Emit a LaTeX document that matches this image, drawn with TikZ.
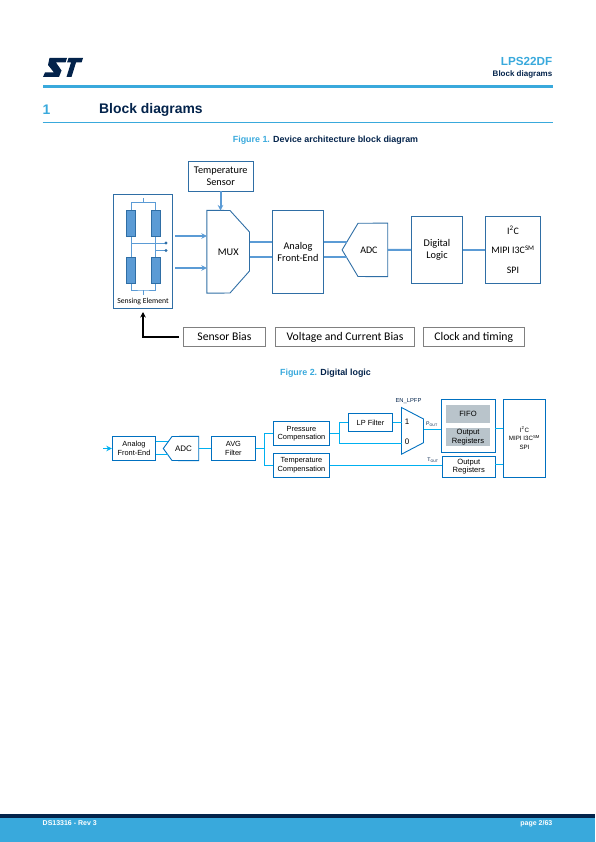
\documentclass[tikz,border=0pt]{standalone}
\usepackage{fontspec}
\setmainfont{Liberation Sans}
\newfontfamily\calfont{Carlito}
\usetikzlibrary{positioning,arrows.meta}
\definecolor{stnavy}{HTML}{03234B}
\definecolor{stblue}{HTML}{39A9DC}
\definecolor{boxline}{HTML}{2F6EA5}
\definecolor{wireone}{HTML}{5B9BD5}
\definecolor{boxtwo}{HTML}{0070C0}
\definecolor{wiretwo}{HTML}{00B0F0}
\definecolor{greybar}{HTML}{B9C4CB}
\newcommand{\fs}[1]{\fontsize{#1}{1.15\dimexpr #1pt\relax}\selectfont}
\tikzset{
	boxa/.style={draw=boxline,line width=.9pt,align=center,inner sep=0pt,font=\calfont\fs{10.3}},
	biasbox/.style={draw=black!50,line width=.9pt,align=center,inner sep=0pt,font=\calfont\fs{11.7},minimum height=19pt},
	resbox/.style={draw=boxline,line width=.9pt,fill=wireone,inner sep=0pt,minimum width=9pt,minimum height=26pt},
	wirea/.style={draw=wireone,line width=2pt},
	wireb/.style={draw=wireone,line width=.9pt},
	boxb/.style={draw=boxtwo,line width=.9pt,align=center,inner sep=0pt,font=\fs{7.4}},
	wirec/.style={draw=wiretwo,line width=.9pt},
	greyb/.style={fill=greybar,align=center,inner sep=0pt,font=\fs{7.6},minimum width=44pt,minimum height=18pt},
	plain/.style={inner sep=0pt,align=center},
}
\begin{document}
\begin{tikzpicture}[x=1pt,y=-1pt,>={Stealth[length=5.5pt,width=5.5pt]}]
	\useasboundingbox (0,0) rectangle (595,842);
	% page header
	\fill[stnavy] (49.5,58)--(67,58)--(65.5,62.5)--(56,62.5)--(61.5,70.5)--(59,77)--(43,77)--(45,72.5)--(54,72.5)--(48,65)--cycle;
	\fill[stnavy] (68.5,58)--(83,58)--(81.5,62.5)--(76,62.5)--(71.5,77)--(66.5,77)--(71,62.5)--(67,62.5)--cycle;
	\node[plain,anchor=east,text=stblue,font=\bfseries\fs{11.7}] (partname) at (552.5,61.5) {LPS22DF};
	\node[plain,anchor=east,text=stnavy,font=\bfseries\fs{8}] (headsub) at (552.5,74.5) {Block diagrams};
	\fill[stblue] (42.5,85) rectangle (552.5,88);
	\node[plain,anchor=west,text=stblue,font=\bfseries\fs{13.9}] (secnum) at (42.5,109.5) {1};
	\node[plain,anchor=west,text=stnavy,font=\bfseries\fs{13.9}] (sectitle) at (99,109.5) {Block diagrams};
	\draw[stblue,line width=.7pt] (42.5,122.5) -- (552.5,122.5);
	\node[plain,text=stnavy,font=\bfseries\fs{8.9}] (captone) at (325.5,140) {\textcolor{stblue}{Figure 1.} Device architecture block diagram};
	\node[plain,text=stnavy,font=\bfseries\fs{8.9}] (capttwo) at (325.5,373.5) {\textcolor{stblue}{Figure 2.} Digital logic};
	% figure 1
	\node[boxa,minimum width=65.5pt,minimum height=30pt] (tempsensor) at (220.75,176) {Temperature\\Sensor};
	\node[boxa,minimum width=59pt,minimum height=114pt] (sensing) at (143,251) {};
	\node[plain,font=\calfont\fs{7.7}] (sensinglabel) at (143,301.5) {Sensing Element};
	\node[resbox] (resa) at (131,223.5) {};
	\node[resbox] (resb) at (155.75,223.5) {};
	\node[resbox] (resc) at (131,270.5) {};
	\node[resbox] (resd) at (155.75,270.5) {};
	\coordinate (topstub) at (143.5,198);
	\coordinate (botstub) at (143.5,295);
	\coordinate (dota) at (166,243);
	\coordinate (dotb) at (166,250.5);
	\draw[wireb] (resa.north) |- (143.5,202.5) -| (resb.north);
	\draw[wireb] (143.5,202.5) -- (topstub);
	\draw[wireb] (resc.south) |- (143.5,290) -| (resd.south);
	\draw[wireb] (143.5,290) -- (botstub);
	\draw[wireb] (resa.south) -- (resc.north);
	\draw[wireb] (resb.south) -- (resd.north);
	\draw[wireb] (resa.south |- dota) -- (dota);
	\draw[wireb] (resb.south |- dotb) -- (dotb);
	\fill[boxline] (dota) circle (1.6pt) (dotb) circle (1.6pt);
	\node[plain,minimum width=42.5pt,minimum height=82.5pt,font=\calfont\fs{10.3}] (mux) at (228.25,251.75) {MUX};
	\draw[boxline,line width=.9pt] (mux.north west) -- (230,210.5) -- (249.5,232) -- (249.5,271) -- (230,293) -- (mux.south west) -- cycle;
	\node[boxa,minimum width=51pt,minimum height=82.5pt] (analog) at (298,251.75) {Analog\\Front-End};
	\node[plain,minimum width=45.2pt,minimum height=53.2pt,font=\calfont\fs{10}] (adc) at (364.9,249.9) {\hspace{8pt}ADC};
	\draw[boxline,line width=.9pt] (adc.west) -- (358,223.3) -- (adc.north east) -- (adc.south east) -- (358,276.5) -- cycle;
	\node[boxa,minimum width=51pt,minimum height=66.5pt] (digital) at (437,249.75) {Digital\\Logic};
	\node[boxa,minimum width=55pt,minimum height=66.5pt,font=\calfont\fs{9.9},align=center] (ifaces) at (513,249.75) {I\textsuperscript{2}C\\[8pt]MIPI I3C\textsuperscript{SM}\\[8pt]SPI};
	\coordinate (sensorouta) at (175,236);
	\coordinate (sensoroutb) at (175,268);
	\draw[wirea,->] (tempsensor.south -| 220.5,0) -- (220.5,210.5);
	\draw[wirea,->] (sensorouta) -- (mux.west |- sensorouta);
	\draw[wirea,->] (sensoroutb) -- (mux.west |- sensoroutb);
	\draw[wirea] (249.5,242) -- (analog.west |- 0,242);
	\draw[wirea] (249.5,257) -- (analog.west |- 0,257);
	\draw[wirea] (analog.east |- 0,242) -- (347,242);
	\draw[wirea] (analog.east |- 0,257) -- (346.5,257);
	\draw[wirea] (adc.east) -- (digital.west);
	\draw[wirea] (digital.east) -- (ifaces.west);
	\node[biasbox,minimum width=82pt] (sensorbias) at (224.4,337) {Sensor Bias};
	\node[biasbox,minimum width=139pt] (voltbias) at (345,337) {Voltage and Current Bias};
	\node[biasbox,minimum width=101.5pt] (clocktiming) at (473.75,337) {Clock and timing};
	\coordinate (biasbend) at (143,337);
	\coordinate (biastip) at (143,312);
	\draw[black,line width=1.6pt,->] (179,337) -- (biasbend) -- (biastip);
	% figure 2
	\node[boxb,minimum width=43.5pt,minimum height=24.2pt] (analogb) at (134,448.5) {Analog\\Front-End};
	\coordinate (inputb) at (103,448.5);
	\draw[wirec,->] (inputb) -- (analogb.west);
	\node[plain,minimum width=35pt,minimum height=24pt,font=\fs{8}] (adcb) at (181,448.5) {\hspace{5pt}ADC};
	\draw[boxb] (adcb.west) -- (172,436.5) -- (adcb.north east) -- (adcb.south east) -- (172,460.5) -- cycle;
	\node[boxb,minimum width=44.2pt,minimum height=24pt] (avg) at (233.4,448.5) {AVG\\Filter};
	\node[boxb,minimum width=56pt,minimum height=23.6pt] (pcomp) at (301.5,433.5) {Pressure\\Compensation};
	\node[boxb,minimum width=56pt,minimum height=24pt] (tcomp) at (301.5,465) {Temperature\\Compensation};
	\node[boxb,minimum width=44.4pt,minimum height=17.8pt] (lpfilter) at (370.5,422.4) {LP Filter};
	\node[plain,minimum width=21.6pt,minimum height=46.3pt] (muxb) at (412.5,430.85) {};
	\draw[boxb] (muxb.north west) -- (muxb.east |- 0,419) -- (muxb.east |- 0,442.7) -- (muxb.south west) -- cycle;
	\node[plain,font=\fs{8}] (inone) at (407,422) {1};
	\node[plain,font=\fs{8}] (inzero) at (407,441.7) {0};
	\node[plain,text=stnavy,font=\fs{5.8}] (enlpfp) at (408.5,401) {EN\_LPFP};
	\node[boxb,minimum width=53.7pt,minimum height=52.5pt] (fifobox) at (468.15,425.75) {};
	\node[greyb] (fifo) at (468,414) {FIFO};
	\node[greyb] (outregs) at (468,437) {Output\\Registers};
	\node[boxb,minimum width=52.5pt,minimum height=20.5pt,font=\fs{7.6}] (outregsb) at (468.75,466.75) {Output\\Registers};
	\node[boxb,minimum width=42.4pt,minimum height=77.5pt,font=\fs{6.2}] (ifacesb) at (524.5,438.25) {I\textsuperscript{2}C\\[1.5pt]MIPI I3C\textsuperscript{SM}\\[1.5pt]SPI};
	\node[plain,text=stnavy,font=\fs{5.2}] (pout) at (432,424) {P\textsubscript{OUT}};
	\node[plain,text=stnavy,font=\fs{5.2}] (tout) at (433,460.5) {T\textsubscript{OUT}};
	\draw[wirec] (analogb.east |- 0,441.7) -- (167.5,441.7);
	\draw[wirec] (analogb.east |- 0,454) -- (167.5,454);
	\draw[wirec] (adcb.east) -- (avg.west);
	\draw[wirec] (avg.east) -- (264.5,448.5);
	\draw[wirec] (pcomp.west) -| (264.5,448.5) |- (tcomp.west);
	\coordinate (splitp) at (339.3,433.5);
	\draw[wirec] (pcomp.east) -- (splitp);
	\draw[wirec] (lpfilter.west) -| (splitp) |- (muxb.west |- 0,443.3);
	\draw[wirec] (lpfilter.east) -- (muxb.west |- lpfilter);
	\draw[wirec] (muxb.east |- 0,429) -- (fifobox.west |- 0,429);
	\draw[wirec] (fifobox.east |- 0,428.5) -- (ifacesb.west |- 0,428.5);
	\draw[wirec] (tcomp.east) -- (outregsb.west |- tcomp);
	\draw[wirec] (outregsb.east |- 0,464.5) -- (ifacesb.west |- 0,464.5);
	% page footer
	\fill[stblue] (0,818) rectangle (595,842);
	\fill[stnavy] (0,814) rectangle (595,818);
	\node[plain,anchor=west,text=white,font=\bfseries\fs{7}] (docref) at (42.5,823) {DS13316 - Rev 3};
	\node[plain,anchor=east,text=white,font=\bfseries\fs{7}] (pageno) at (552.5,824) {page 2/63};
\end{tikzpicture}
\end{document}
